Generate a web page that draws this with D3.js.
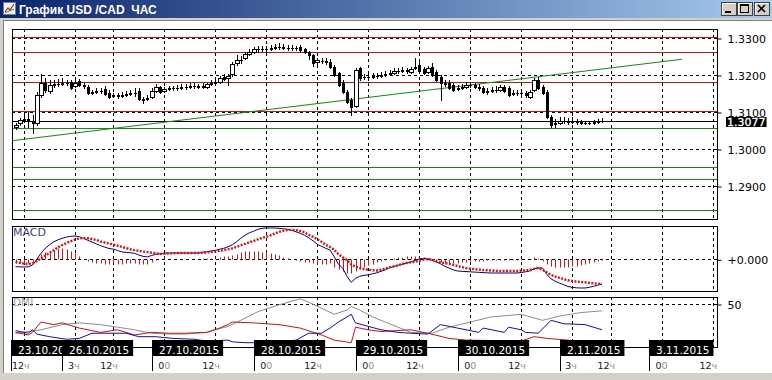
<!DOCTYPE html>
<html><head><meta charset="utf-8">
<script src="https://cdn.jsdelivr.net/npm/d3@7/dist/d3.min.js"></script>
<style>body{margin:0;background:#fff;overflow:hidden}svg{display:block}</style>
</head><body>
<svg id="c" width="772" height="380"></svg>
<script>
// ---------- DATA ----------
const title = "График USD /CAD  ЧАС";
// hourly candles [open, high, low, close], bar index 0..138
const ohlc = [
[1.3059,1.3070,1.3054,1.3065],[1.3070,1.3084,1.3065,1.3078],[1.3078,1.3089,1.3073,1.3081],[1.3081,1.3100,1.3059,1.3076],
[1.3076,1.3092,1.3043,1.3070],[1.3070,1.3154,1.3065,1.3146],[1.3146,1.3203,1.3141,1.3178],[1.3178,1.3192,1.3154,1.3159],
[1.3157,1.3186,1.3151,1.3173],[1.3173,1.3186,1.3168,1.3176],[1.3176,1.3189,1.3170,1.3177],[1.3176,1.3192,1.3173,1.3178],
[1.3178,1.3186,1.3173,1.3179],[1.3181,1.3186,1.3162,1.3165],[1.3170,1.3186,1.3168,1.3178],[1.3184,1.3189,1.3170,1.3173],
[1.3173,1.3178,1.3165,1.3170],[1.3168,1.3173,1.3149,1.3151],[1.3151,1.3159,1.3149,1.3154],[1.3154,1.3165,1.3151,1.3157],
[1.3157,1.3165,1.3151,1.3156],[1.3162,1.3170,1.3146,1.3149],[1.3151,1.3159,1.3138,1.3141],[1.3143,1.3151,1.3141,1.3146],
[1.3146,1.3151,1.3138,1.3143],[1.3143,1.3154,1.3141,1.3146],[1.3146,1.3157,1.3143,1.3149],[1.3149,1.3159,1.3146,1.3151],
[1.3151,1.3165,1.3143,1.3150],[1.3157,1.3165,1.3132,1.3135],[1.3135,1.3141,1.3124,1.3132],[1.3135,1.3146,1.3132,1.3138],
[1.3141,1.3165,1.3138,1.3157],[1.3157,1.3176,1.3154,1.3168],[1.3168,1.3170,1.3151,1.3154],[1.3157,1.3168,1.3154,1.3162],
[1.3162,1.3170,1.3159,1.3165],[1.3165,1.3170,1.3159,1.3164],[1.3164,1.3173,1.3159,1.3165],[1.3165,1.3176,1.3162,1.3168],
[1.3168,1.3176,1.3162,1.3167],[1.3167,1.3178,1.3165,1.3170],[1.3170,1.3178,1.3165,1.3171],[1.3170,1.3176,1.3165,1.3168],
[1.3168,1.3178,1.3165,1.3170],[1.3168,1.3178,1.3165,1.3176],[1.3176,1.3186,1.3173,1.3178],[1.3178,1.3189,1.3176,1.3181],
[1.3181,1.3197,1.3178,1.3192],[1.3195,1.3203,1.3186,1.3189],[1.3192,1.3203,1.3173,1.3197],[1.3203,1.3235,1.3197,1.3230],
[1.3232,1.3254,1.3228,1.3241],[1.3241,1.3251,1.3232,1.3240],[1.3246,1.3262,1.3243,1.3257],[1.3257,1.3270,1.3254,1.3262],
[1.3262,1.3276,1.3259,1.3270],[1.3270,1.3278,1.3262,1.3271],[1.3271,1.3278,1.3265,1.3270],[1.3270,1.3278,1.3262,1.3271],
[1.3270,1.3281,1.3268,1.3273],[1.3273,1.3284,1.3270,1.3276],[1.3276,1.3286,1.3270,1.3275],[1.3276,1.3284,1.3270,1.3273],
[1.3273,1.3281,1.3268,1.3272],[1.3272,1.3281,1.3268,1.3273],[1.3273,1.3278,1.3268,1.3272],[1.3276,1.3281,1.3262,1.3268],
[1.3270,1.3273,1.3259,1.3262],[1.3262,1.3265,1.3243,1.3254],[1.3254,1.3257,1.3224,1.3232],[1.3235,1.3246,1.3222,1.3241],
[1.3238,1.3246,1.3232,1.3239],[1.3238,1.3246,1.3230,1.3235],[1.3235,1.3243,1.3219,1.3222],[1.3222,1.3227,1.3197,1.3200],
[1.3205,1.3208,1.3170,1.3173],[1.3178,1.3186,1.3151,1.3154],[1.3154,1.3159,1.3124,1.3127],[1.3132,1.3138,1.3092,1.3114],
[1.3116,1.3219,1.3114,1.3214],[1.3219,1.3222,1.3186,1.3192],[1.3195,1.3203,1.3189,1.3194],[1.3194,1.3203,1.3186,1.3195],
[1.3195,1.3205,1.3192,1.3197],[1.3197,1.3205,1.3192,1.3198],[1.3197,1.3208,1.3195,1.3200],[1.3200,1.3211,1.3197,1.3203],
[1.3203,1.3214,1.3200,1.3205],[1.3205,1.3219,1.3202,1.3211],[1.3211,1.3219,1.3205,1.3210],[1.3210,1.3222,1.3208,1.3214],
[1.3214,1.3219,1.3205,1.3211],[1.3208,1.3222,1.3205,1.3216],[1.3219,1.3246,1.3216,1.3222],[1.3227,1.3241,1.3208,1.3211],
[1.3216,1.3222,1.3203,1.3205],[1.3208,1.3224,1.3205,1.3219],[1.3222,1.3232,1.3197,1.3200],[1.3208,1.3214,1.3184,1.3186],
[1.3195,1.3200,1.3132,1.3178],[1.3178,1.3186,1.3170,1.3177],[1.3178,1.3186,1.3162,1.3165],[1.3173,1.3178,1.3157,1.3159],
[1.3162,1.3173,1.3159,1.3165],[1.3165,1.3176,1.3162,1.3168],[1.3168,1.3181,1.3165,1.3173],[1.3173,1.3181,1.3168,1.3172],
[1.3172,1.3178,1.3165,1.3168],[1.3168,1.3176,1.3159,1.3165],[1.3165,1.3170,1.3151,1.3154],[1.3154,1.3165,1.3149,1.3157],
[1.3157,1.3168,1.3154,1.3159],[1.3159,1.3170,1.3154,1.3160],[1.3159,1.3173,1.3157,1.3168],[1.3168,1.3173,1.3154,1.3157],
[1.3165,1.3170,1.3143,1.3146],[1.3149,1.3159,1.3146,1.3151],[1.3151,1.3159,1.3146,1.3152],[1.3151,1.3162,1.3143,1.3150],
[1.3151,1.3157,1.3141,1.3146],[1.3141,1.3159,1.3138,1.3154],[1.3159,1.3192,1.3157,1.3186],[1.3186,1.3195,1.3162,1.3165],
[1.3168,1.3173,1.3149,1.3151],[1.3154,1.3159,1.3084,1.3086],[1.3086,1.3092,1.3059,1.3065],[1.3068,1.3081,1.3059,1.3070],
[1.3070,1.3086,1.3068,1.3076],[1.3076,1.3086,1.3070,1.3075],[1.3075,1.3084,1.3068,1.3073],[1.3073,1.3086,1.3070,1.3076],
[1.3076,1.3081,1.3068,1.3073],[1.3073,1.3078,1.3068,1.3070],[1.3070,1.3076,1.3068,1.3071],[1.3071,1.3076,1.3068,1.3070],
[1.3070,1.3078,1.3068,1.3073],[1.3073,1.3081,1.3070,1.3076],[1.3076,1.3084,1.3073,1.3077]
];
const currentPrice = 1.3077;
const redLevels = [1.3302, 1.3261, 1.3180, 1.3103];
const greenLevels = [1.3056, 1.2951, 1.2920, 1.2834];
const trendLine = [[-0.82, 1.30224], [156.75, 1.32424]]; // [bar index, price]
const priceTicks = [1.33, 1.32, 1.31, 1.30, 1.29];

// MACD (units of 0.0001)
const macdMain = [
-7.4,-7.5,-7.7,-7.5,-5.7,0,6,11,14.5,17.5,19.5,21,22.3,23,23.3,22.5,21,19,17.3,15.5,
13.7,12.2,10.8,10.2,8.8,7.4,7,6.5,6,4.3,3,2.3,3.8,5,5.5,6.2,6.3,6.3,6.3,6.3,
6.3,6.3,6.3,6.3,7,7.5,8.3,9,10,11,12.5,14.5,17.5,21,24,26.5,28,30,31,31.3,
31.3,31.3,31,30.5,30,29,27.5,26,24,21.5,18.5,15,13,11,9.3,2.5,-5,-9,-17,-23,
-19,-17,-16,-15.5,-14.5,-13.5,-12,-10.5,-8.5,-7.2,-6,-4.8,-3.8,-2.8,-1.2,0.3,1,0.5,-1,-2.7,
-4.5,-7,-8.8,-10.5,-11.7,-12,-12.3,-12.5,-12.8,-13,-13.3,-13.5,-13.7,-13.7,-13.7,-13.7,-13.7,-13.7,-13.7,-13.2,
-12.5,-11.7,-9.5,-8.7,-8.7,-15,-19.5,-22,-23.7,-25.5,-27.2,-28,-28.5,-28.7,-28.7,-28,-27,-25.8,-24.7];
const macdSignal = [
-2.7,-3.5,-4.3,-4.7,-4,-2,1,3.5,6.5,9,12,14.3,16.3,18,19.7,20.8,21.3,21,20.3,19.3,
17.8,16.8,15.8,14.8,13.6,12.4,11.3,10,9.2,8.5,7.7,7.2,6.6,6,5.3,5.5,5.8,6,6.2,6.3,
6.3,6.3,6.3,6.3,6.6,6.9,7.3,7.8,8.4,9.1,10,11,12.3,14,15.5,16.9,18.3,20,21.3,22.5,
24,25.8,27.3,28.5,29.3,29.5,29.2,28.3,27,24.5,22.5,20,17.5,14.5,12.3,9.5,5,2,-0.7,-5,
-7.5,-8.7,-9.8,-10.5,-11,-11.2,-10.5,-9.2,-8,-7,-6,-4.7,-3.7,-3,-2.3,-1.5,-0.3,0.3,-0.5,-1.8,
-3,-3.8,-4.5,-5.5,-6.7,-7.8,-8.7,-9.3,-9.8,-10.3,-10.7,-11,-11.2,-11.5,-11.7,-11.7,-11.7,-11.7,-11.7,-11.4,
-11,-10.7,-9.5,-8.7,-10.5,-13,-15.7,-17.2,-18.5,-19.8,-21,-21.7,-22.3,-22.7,-23,-23.5,-24,-24.4,-24.7];
const macdHist = [
-4,-4,-5,-4,-2,2,5,7,8,9,11,11,10,8,6,3,0,-2,-3,-4,
-4,-5,-5,-4,-5,-5,-4,-4,-4,-5,-5,-5,-3,-1,0,1,0,0,0,0,
0,0,0,0,1,1,1,2,2,3,3,4,5,7,8,8,8,8,7,7,
6,5,4,2,1,0,-1,-2,-3,-3,-4,-5,-5,-5,-4,-8,-10,-12,-14,-14,
-12,-10,-8,-6,-5,-3,-2,-1,0,1,2,2,3,3,3,2,2,1,-1,-2,
-3,-4,-4,-4,-4,-3,-3,-2,-2,-2,-2,-1,-1,-1,-1,-1,-1,-1,-1,-1,
0,0,2,1,-2,-5,-7,-8,-8,-8,-8,-7,-7,-6,-5,-4,-3,-2,-1];

// DMI, [bar index, value]
const adx = [[0,16],[6,20],[11,26],[15,28],[20,26],[24,23],[28,20],[32,16],[36,15],[40,15],[45,17],[50,24],[53,31],[57,41],[62,49],[67,56],[69,52],[72,45],[75,38],[78,43],[79,47],[81,43],[84,35],[87,29],[90,23],[93,17],[98,16],[102,23],[107,29],[112,35],[119,38],[124,31],[128,36],[133,40],[138,42]];
const plusDI = [[0,19],[3,16],[4,20],[5,15],[8,12],[12,9],[15,10],[18,16],[22,16],[26,16],[29,12],[33,12],[37,10],[42,9],[45,7],[50,8],[51,6],[54,5],[60,5],[66,8],[69,16],[72,16],[74,22],[76,29],[79,38],[80,28],[83,24],[86,20],[90,17],[93,16],[97,15],[100,26],[104,22],[109,17],[110,22],[115,17],[116,23],[119,20],[120,17],[123,16],[126,31],[129,27],[134,26],[138,20]];
const minusDI = [[0,17],[3,14],[4,17],[6,29],[9,26],[11,28],[15,22],[20,17],[24,20],[28,14],[32,17],[36,16],[40,16],[45,17],[48,22],[50,26],[51,29],[56,28],[62,26],[67,22],[72,14],[75,8],[79,5],[80,23],[83,20],[86,18],[93,20],[97,16],[102,10],[106,8],[119,7],[122,12],[125,10],[130,8],[134,6],[138,5]];

// time axis
const gridBars = [2,14,23,35,47,59,71,83,95,107,119,131,140,152,164];
const hourLabels = ["12ч","3ч","12ч","00","12ч","00","12ч","00","12ч","00","12ч","3ч","12ч","00","12ч"];
const dayLabels = ["23.10.2015","26.10.2015","27.10.2015","28.10.2015","29.10.2015","30.10.2015","2.11.2015","3.11.2015"];
const dayFirstBar = [2,14,35,59,83,107,131,152];

// ---------- DRAW ----------
const svg = d3.select("#c");
const W = 772, H = 380;
const L = 12, R = 717;
const main = {t:29, b:219}, mp = {t:226, b:291}, dp = {t:297, b:347};
const FONT = "DejaVu Sans, Verdana, sans-serif";

const x = d3.scaleLinear().domain([0, 1]).range([15.5, 19.75]);
const y = d3.scaleLinear().domain([1.28108, 1.33243]).range([main.b, main.t]);
const ym = d3.scaleLinear().domain([-31.7, 33.3]).range([mp.b, mp.t]);
const yd = d3.scaleLinear().domain([0, 58.1]).range([dp.b, dp.t]);

// window chrome
const defs = svg.append("defs");
const grad = defs.append("linearGradient").attr("id","tb");
grad.append("stop").attr("offset","0%").attr("stop-color","#0a246a");
grad.append("stop").attr("offset","100%").attr("stop-color","#a6caf0");
svg.append("rect").attr("x",0).attr("y",0).attr("width",W).attr("height",H).attr("fill","#d4d0c8");
svg.append("rect").attr("x",0).attr("y",0).attr("width",W).attr("height",18).attr("fill","url(#tb)");
svg.append("rect").attr("x",3).attr("y",20).attr("width",W-3).attr("height",353).attr("fill","#808080");
svg.append("rect").attr("x",4).attr("y",21).attr("width",W-4).attr("height",352).attr("fill","#ffffff");
// icon
const ic = svg.append("g");
ic.append("rect").attr("x",3.5).attr("y",2.5).attr("width",12).attr("height",12).attr("fill","#f4f4f4").attr("stroke","#6a7fa8");
ic.append("polyline").attr("points","5,12 8,8 10,10 14,4").attr("fill","none").attr("stroke","#d02020").attr("stroke-width",1.2);
ic.append("polyline").attr("points","5,13 9,11 14,9").attr("fill","none").attr("stroke","#20a020").attr("stroke-width",1);
svg.append("text").attr("x",19).attr("y",13.5).attr("fill","#fff").attr("font-family","Liberation Sans, Arial, sans-serif")
  .attr("font-weight","bold").attr("font-size",12).attr("xml:space","preserve").style("white-space","pre").text(title);
// buttons
[721,737,754].forEach((bx,k)=>{
  const g = svg.append("g");
  g.append("rect").attr("x",bx+0.5).attr("y",2.5).attr("width",15).attr("height",13).attr("fill","#d4d0c8").attr("stroke","#404040");
  g.append("path").attr("d",`M${bx+1.5},14.5V3.5H${bx+14.5}`).attr("fill","none").attr("stroke","#fff");
  if(k===0) g.append("rect").attr("x",bx+4).attr("y",11).attr("width",6).attr("height",2).attr("fill","#000");
  if(k===1){ g.append("rect").attr("x",bx+3.5).attr("y",4.5).attr("width",8).attr("height",8).attr("fill","none").attr("stroke","#000");
             g.append("rect").attr("x",bx+3).attr("y",4).attr("width",9).attr("height",2).attr("fill","#000"); }
  if(k===2) g.append("path").attr("d",`M${bx+4},5L${bx+11},12M${bx+11},5L${bx+4},12`).attr("stroke","#000").attr("stroke-width",1.6);
});

// clip paths
[["cm",main],["cmp",mp],["cdp",dp]].forEach(([id,p])=>{
  defs.append("clipPath").attr("id",id).append("rect").attr("x",L).attr("y",p.t).attr("width",R-L).attr("height",p.b-p.t);
});
const px = v => Math.round(v) + 0.5;
const dash = "3,3";

// vertical dashed grid in every panel
[main, mp, dp].forEach(p=>{
  svg.append("g").selectAll("line").data(gridBars).join("line")
    .attr("x1",d=>px(x(d))).attr("x2",d=>px(x(d))).attr("y1",p.t).attr("y2",p.b)
    .attr("stroke","#000").attr("stroke-dasharray",dash).attr("shape-rendering","crispEdges");
});

// ---- main panel
const gm = svg.append("g").attr("clip-path","url(#cm)");
gm.selectAll("line.hg").data(priceTicks).join("line").attr("class","hg")
  .attr("x1",L).attr("x2",R).attr("y1",d=>px(y(d))).attr("y2",d=>px(y(d)))
  .attr("stroke","#000").attr("stroke-dasharray",dash);
gm.selectAll("line.red").data(redLevels).join("line").attr("class","red")
  .attr("x1",L).attr("x2",R).attr("y1",d=>px(y(d))).attr("y2",d=>px(y(d))).attr("stroke","#cc1010");
gm.selectAll("line.grn").data(greenLevels).join("line").attr("class","grn")
  .attr("x1",L).attr("x2",R).attr("y1",d=>px(y(d))).attr("y2",d=>px(y(d))).attr("stroke","#108a10");
gm.append("line").attr("x1",L).attr("x2",R).attr("y1",px(y(currentPrice))).attr("y2",px(y(currentPrice))).attr("stroke","#000");
gm.append("line").attr("x1",x(trendLine[0][0])).attr("y1",y(trendLine[0][1]))
  .attr("x2",x(trendLine[1][0])).attr("y2",y(trendLine[1][1])).attr("stroke","#108a10");

// candles
const cg = gm.append("g");
ohlc.forEach((d,i)=>{
  const cx = Math.round(x(i));
  const [o,h,l,c] = d;
  cg.append("line").attr("x1",cx+0.5).attr("x2",cx+0.5).attr("y1",Math.round(y(h))).attr("y2",Math.round(y(l))+1)
    .attr("stroke","#000");
  const top = Math.round(y(Math.max(o,c))), bot = Math.round(y(Math.min(o,c)));
  if (c > o && bot - top >= 2) {
    cg.append("rect").attr("x",cx-1.5).attr("y",top+0.5).attr("width",4).attr("height",bot-top)
      .attr("fill","#fff").attr("stroke","#000");
  } else {
    cg.append("rect").attr("x",cx-1).attr("y",top).attr("width",3).attr("height",Math.max(1,bot-top+1)).attr("fill","#000");
  }
});

// ---- MACD panel
const gmp = svg.append("g").attr("clip-path","url(#cmp)");
gmp.append("line").attr("x1",L).attr("x2",R+5).attr("y1",px(ym(0))).attr("y2",px(ym(0)))
  .attr("stroke","#000").attr("stroke-dasharray",dash);
gmp.selectAll("line.h").data(macdHist).join("line").attr("class","h")
  .attr("x1",(d,i)=>px(x(i))).attr("x2",(d,i)=>px(x(i)))
  .attr("y1",px(ym(0))).attr("y2",d=>Math.round(ym(d))+0.5).attr("stroke","#e01010");
gmp.append("path").datum(macdMain).attr("d",d3.line().x((d,i)=>x(i)).y(d=>ym(d)))
  .attr("fill","none").attr("stroke","#000080");
gmp.append("path").datum(macdSignal).attr("d",d3.line().x((d,i)=>x(i)).y(d=>ym(d)))
  .attr("fill","none").attr("stroke","#e01010").attr("stroke-width",2.4).attr("stroke-dasharray","2,1.4");
svg.append("text").attr("x",13).attr("y",236).attr("font-family",FONT).attr("font-size",11).attr("fill","#3c3c8c").text("MACD");

// ---- DMI panel
const gdp = svg.append("g").attr("clip-path","url(#cdp)");
gdp.append("line").attr("x1",L).attr("x2",R).attr("y1",px(yd(50))).attr("y2",px(yd(50)))
  .attr("stroke","#000").attr("stroke-dasharray",dash);
const dl = d3.line().x(d=>x(d[0])).y(d=>yd(d[1]));
gdp.append("path").datum(adx).attr("d",dl).attr("fill","none").attr("stroke","#8c8c8c");
gdp.append("path").datum(minusDI).attr("d",dl).attr("fill","none").attr("stroke","#cc1010");
gdp.append("path").datum(plusDI).attr("d",dl).attr("fill","none").attr("stroke","#1010b0");
svg.append("text").attr("x",13).attr("y",306).attr("font-family",FONT).attr("font-size",10.5).attr("fill","#a0a0a0").text("DMI");

// panel borders
[main, mp, dp].forEach(p=>{
  svg.append("rect").attr("x",L+0.5).attr("y",p.t+0.5).attr("width",R-L).attr("height",p.b-p.t)
    .attr("fill","none").attr("stroke","#000");
});

// ---- right axes
function styleAxis(g){
  g.select(".domain").remove();
  g.selectAll("text").attr("font-family",FONT).attr("font-size",11).attr("fill","#000");
  g.selectAll(".tick line").attr("stroke","#000");
}
svg.append("g").attr("transform",`translate(${R+0.5},0.5)`)
  .call(d3.axisRight(y).tickValues(priceTicks).tickSize(4).tickPadding(6).tickFormat(d3.format(".4f"))).call(styleAxis);
svg.append("g").attr("transform",`translate(${R+0.5},0.5)`)
  .call(d3.axisRight(ym).tickValues([0]).tickSize(4).tickPadding(6).tickFormat(()=>"+0.000")).call(styleAxis);
svg.append("g").attr("transform",`translate(${R+0.5},0.5)`)
  .call(d3.axisRight(yd).tickValues([50]).tickSize(4).tickPadding(6).tickFormat(d3.format("d"))).call(styleAxis);
// current price tag
const cpY = Math.round(y(currentPrice));
const cpG = svg.append("g");
const cpT = cpG.append("text").attr("x",727).attr("y",cpY+5).attr("font-family",FONT).attr("font-size",11)
  .attr("fill","#fff").attr("stroke","#fff").attr("stroke-width",0.3).text(d3.format(".4f")(currentPrice));
const cpW = cpT.node().getComputedTextLength();
cpG.insert("rect","text").attr("x",726).attr("y",cpY-4).attr("width",cpW+2).attr("height",10).attr("fill","#000");

// ---- time axis: date boxes
dayLabels.forEach((lab,k)=>{
  const sx = Math.round(x(dayFirstBar[k]) - 12.75);
  const nx = k < dayLabels.length-1 ? Math.round(x(dayFirstBar[k+1]) - 12.75) : W;
  defs.append("clipPath").attr("id","dc"+k).append("rect").attr("x",sx).attr("y",338).attr("width",nx-sx).attr("height",20);
  const g = svg.append("g").attr("clip-path",`url(#dc${k})`);
  const t = g.append("text").attr("x",sx+7).attr("y",353.5).attr("font-family",FONT).attr("font-size",10.5)
    .attr("fill","#fff").text(lab);
  const w = t.node().getComputedTextLength();
  g.insert("rect","text").attr("x",sx).attr("y",340).attr("width",w+11).attr("height",16).attr("fill","#000");
  svg.append("line").attr("x1",sx+0.5).attr("x2",sx+0.5).attr("y1",340).attr("y2",371).attr("stroke","#000");
});
// hour labels
gridBars.forEach((b,k)=>{
  const lab = hourLabels[k];
  const t = svg.append("text").attr("y",369).attr("font-family",FONT).attr("font-size",9.5).attr("fill","#202020");
  if (lab === "00") {
    t.attr("x",x(b)).attr("text-anchor","middle");
    t.append("tspan").text("0"); t.append("tspan").attr("fill","#909090").text("0");
  } else {
    t.attr("x",Math.max(12, x(b) - (lab.length===3 ? 13 : 7))).attr("text-anchor","start");
    t.append("tspan").text(lab.slice(0,-1)); t.append("tspan").attr("fill","#909090").text("ч");
  }
});
</script>
</body></html>
